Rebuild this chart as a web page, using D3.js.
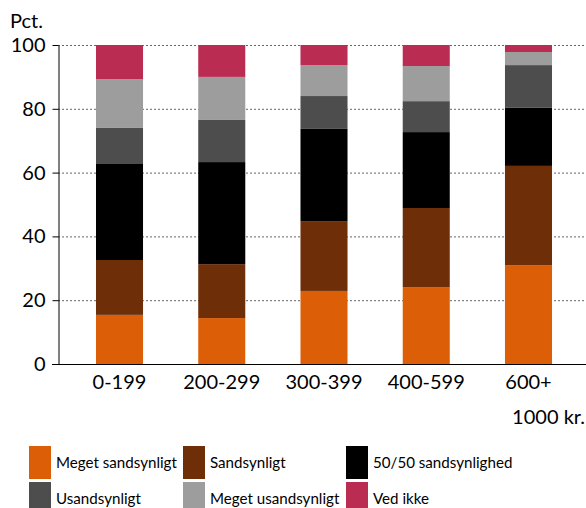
<!DOCTYPE html>
<html>
<head>
<meta charset="utf-8">
<script src="https://cdn.jsdelivr.net/npm/d3@7"></script>
<style>
  html, body { margin: 0; padding: 0; background: #fff; }
  svg { display: block; font-family: Lato, "Open Sans", sans-serif; }
</style>
</head>
<body>
<svg id="chart" width="586" height="508"></svg>
<script>
// Income groups (1000 kr.)
const categories = ["0-199", "200-299", "300-399", "400-599", "600+"];

// Answer categories, stacked bottom to top
const seriesNames = ["Meget sandsynligt", "Sandsynligt", "50/50 sandsynlighed",
                     "Usandsynligt", "Meget usandsynligt", "Ved ikke"];
const seriesColors = ["#dc5f08", "#6e2f08", "#000000", "#4d4d4d", "#9d9d9d", "#ba2c52"];

// Share in percent, one array per answer category, ordered like `categories`
const megetSandsynligt   = [15.4, 14.4, 22.9, 24.1, 31.0];
const sandsynligt        = [17.2, 16.9, 21.9, 24.8, 31.1];
const halvtHalvt         = [30.1, 32.0, 28.9, 23.8, 18.2];
const usandsynligt       = [11.3, 13.2, 10.3,  9.7, 13.4];
const megetUsandsynligt  = [15.3, 13.5,  9.7, 11.0,  4.1];
const vedIkke            = [10.7, 10.0,  6.3,  6.6,  2.2];

const yTicks = [0, 20, 40, 60, 80, 100];
const yUnit = "Pct.";
const xUnit = "1000 kr.";

const seriesValues = [megetSandsynligt, sandsynligt, halvtHalvt,
                      usandsynligt, megetUsandsynligt, vedIkke];

const rows = categories.map((c, i) => {
  const r = { category: c };
  seriesNames.forEach((s, j) => { r[s] = seriesValues[j][i]; });
  return r;
});
const stacked = d3.stack().keys(seriesNames)(rows);

const svg = d3.select("#chart");
const W = 586;
const axisX = 58;
const FONT = "Lato, 'Open Sans', sans-serif";
const LEGEND_FONT = "'Liberation Sans Narrow', Lato, sans-serif";

const x = d3.scaleBand()
  .domain(categories)
  .range([axisX, 590])
  .paddingInner(0.54)
  .paddingOuter(0.3716);

const y = d3.scaleLinear().domain([0, 100]).range([364, 45]);

// Dotted gridlines
svg.append("g")
  .selectAll("line")
  .data(yTicks.filter(t => t > 0))
  .join("line")
  .attr("x1", axisX).attr("x2", W)
  .attr("y1", d => y(d) + 0.5).attr("y2", d => y(d) + 0.5)
  .attr("stroke", "#666")
  .attr("stroke-width", 1)
  .attr("stroke-dasharray", "2,2");

// Stacked bars
svg.append("g")
  .selectAll("g")
  .data(stacked)
  .join("g")
  .attr("fill", (d, i) => seriesColors[i])
  .selectAll("rect")
  .data(d => d)
  .join("rect")
  .attr("x", d => x(d.data.category))
  .attr("width", x.bandwidth())
  .attr("y", d => y(d[1]))
  .attr("height", d => y(d[0]) - y(d[1]));

// Y axis
const yAxis = svg.append("g")
  .attr("transform", `translate(${axisX + 0.5},0)`)
  .call(d3.axisLeft(y).tickValues(yTicks).tickSize(6).tickPadding(7).tickSizeOuter(0));
yAxis.select(".domain").attr("stroke", "#000");
yAxis.selectAll(".tick line").attr("stroke", "#000");
yAxis.selectAll(".tick text")
  .attr("font-family", FONT)
  .attr("font-size", 20)
  .attr("fill", "#000");

// X axis
const xAxis = svg.append("g")
  .attr("transform", `translate(0,${y(0) + 0.5})`)
  .call(d3.axisBottom(x).tickSize(0).tickPadding(10).tickSizeOuter(0));
xAxis.select(".domain").attr("d", `M${axisX - 6},0H${W}`).attr("stroke", "#000");
xAxis.selectAll(".tick text")
  .attr("font-family", FONT)
  .attr("font-size", 20)
  .attr("fill", "#000");

// Unit labels
svg.append("text")
  .attr("x", 10).attr("y", 28)
  .attr("font-size", 20)
  .text(yUnit);
svg.append("text")
  .attr("x", 585).attr("y", 424)
  .attr("text-anchor", "end")
  .attr("font-size", 20)
  .text(xUnit);

// Legend: 3 columns x 2 rows
const legendCols = [29, 183, 346];
const legendRows = [446, 482];
const legend = svg.append("g");
const labels = [];
seriesNames.forEach((name, i) => {
  const cx = legendCols[i % 3];
  const cy = legendRows[Math.floor(i / 3)];
  legend.append("rect")
    .attr("x", cx).attr("y", cy)
    .attr("width", 22).attr("height", 33)
    .attr("fill", seriesColors[i]);
  labels.push(legend.append("text")
    .attr("x", cx + 27).attr("y", cy + 22)
    .attr("font-family", LEGEND_FONT)
    .attr("font-size", 18)
    .attr("fill", "#000")
    .text(name));
});
// Shrink the legend font so the longest first-column label fits before the next swatch
const widest = labels[0].node().getComputedTextLength();
const legendSize = Math.min(18, 18 * 121 / widest);
labels.forEach(t => t.attr("font-size", legendSize));
</script>
</body>
</html>
